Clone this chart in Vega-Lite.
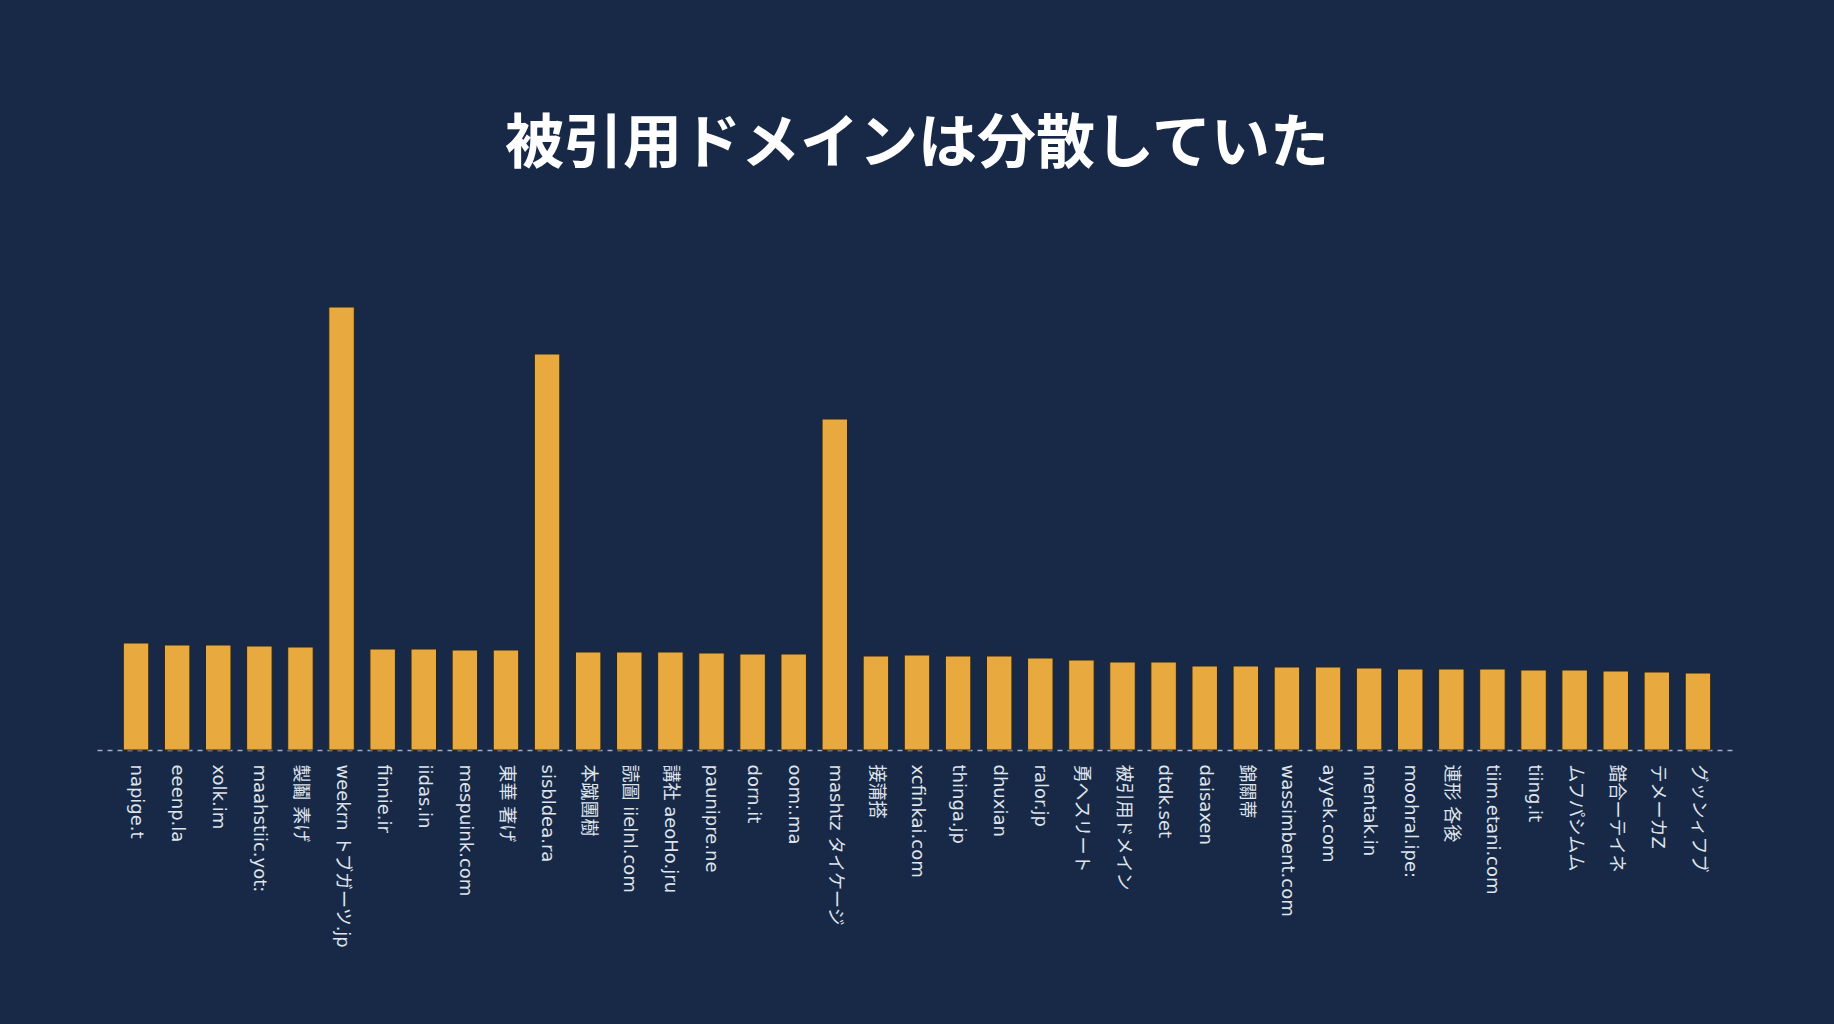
{
  "$schema": "https://vega.github.io/schema/vega-lite/v6.json",
  "width": 1640,
  "height": 500,
  "autosize": "none",
  "padding": {"left": 97, "right": 97, "top": 250, "bottom": 274},
  "background": "#182947",
  "title": {
    "text": "被引用ドメインは分散していた",
    "font": "Noto Sans CJK JP",
    "fontSize": 59,
    "fontWeight": "bold",
    "color": "#ffffff",
    "anchor": "middle",
    "offset": 75
  },
  "data": {
    "values": [
      {"domain": "napige.t", "count": 107},
      {"domain": "eeenp.la", "count": 105},
      {"domain": "xolk.im", "count": 105},
      {"domain": "maahstiic.yot:", "count": 104},
      {"domain": "製鬮 素げ", "count": 103},
      {"domain": "weekrn トブガーツ.jp", "count": 443},
      {"domain": "finnie.ir", "count": 101},
      {"domain": "iidas.in", "count": 101},
      {"domain": "mespuink.com", "count": 100},
      {"domain": "東華 著げ", "count": 100},
      {"domain": "sisbldea.ra", "count": 396},
      {"domain": "本蹴團樹", "count": 98},
      {"domain": "読圖 iielnl.com", "count": 98},
      {"domain": "講社 aeoHo.jru", "count": 98},
      {"domain": "paunipre.ne", "count": 97},
      {"domain": "dorn.it", "count": 96},
      {"domain": "oom:.ma", "count": 96},
      {"domain": "mashtz タイケージ", "count": 331},
      {"domain": "接蒲搭", "count": 94},
      {"domain": "xcfinkai.com", "count": 95},
      {"domain": "thinga.jp", "count": 94},
      {"domain": "dhuxian", "count": 94},
      {"domain": "ralor.jp", "count": 92},
      {"domain": "勇ヘスリート", "count": 90},
      {"domain": "被引用ドメイン", "count": 88},
      {"domain": "dtdk.set", "count": 88},
      {"domain": "daisaxen", "count": 84},
      {"domain": "錦關蒂", "count": 84},
      {"domain": "wassimbent.com", "count": 83},
      {"domain": "ayyek.com", "count": 83},
      {"domain": "nrentak.in", "count": 82},
      {"domain": "moohral.ipe:", "count": 81},
      {"domain": "連形 各後", "count": 81},
      {"domain": "tiim.etani.com", "count": 81},
      {"domain": "tiing.it", "count": 80},
      {"domain": "ムフパシムム", "count": 80},
      {"domain": "錯合ーテイネ", "count": 79},
      {"domain": "テメーカZ", "count": 78},
      {"domain": "グッンィフブ", "count": 77}
    ]
  },
  "mark": {
    "type": "bar",
    "color": "#e8a93e",
    "stroke": "#2b2518",
    "strokeWidth": 1
  },
  "encoding": {
    "x": {
      "field": "domain",
      "type": "nominal",
      "sort": null,
      "scale": {"paddingInner": 0.38, "paddingOuter": 0.64},
      "axis": {
        "title": null,
        "labelAngle": 90,
        "labelFont": "DejaVu Sans, Noto Sans CJK JP",
        "labelFontSize": 18,
        "labelColor": "#dfe3ea",
        "labelPadding": 14,
        "labelLimit": 300,
        "ticks": false,
        "domainColor": "#9fb0c8",
        "domainDash": [5, 5],
        "domainWidth": 1.5
      }
    },
    "y": {
      "field": "count",
      "type": "quantitative",
      "scale": {"domain": [0, 500]},
      "axis": null
    }
  },
  "config": {
    "view": {"stroke": null}
  }
}
